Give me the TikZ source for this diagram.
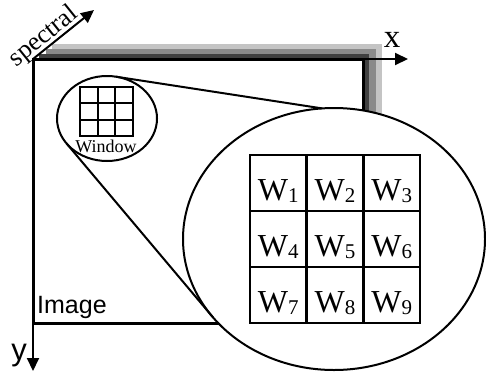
\documentclass[tikz,border=0pt]{standalone}
\usepackage{fontspec}
\setmainfont{Liberation Serif}
\newfontfamily\sansfam{Liberation Sans}
\usetikzlibrary{arrows.meta,calc}
\definecolor{layerA}{HTML}{404040}
\definecolor{layerB}{HTML}{8A8A8A}
\definecolor{layerC}{HTML}{C4C4C4}
\begin{document}
\begin{tikzpicture}[x=1pt,y=-1pt,
  axis/.style={line width=2pt,-{Triangle[length=13pt,width=12pt]}},
  frame/.style={line width=3pt},
  lens/.style={line width=2pt,fill=white},
  tie/.style={line width=2pt},
  bigcell/.style={draw,line width=2.5pt,minimum width=56.67pt,minimum height=56pt,inner sep=0pt},
  smallcell/.style={draw,line width=2pt,minimum width=17.67pt,minimum height=16.33pt,inner sep=0pt},
  wlabel/.style={anchor=base,inner sep=0pt,font=\fontsize{32}{32}\selectfont}
]
\useasboundingbox (0,0) rectangle (486,372);

% stacked spectral layers behind the image plane
\foreach \k/\c in {3/layerC,2/layerB,1/layerA}
  \fill[\c] ($(33,59)+(6.25*\k,-5*\k)$) rectangle ($(363,323)+(6.25*\k,-5*\k)$);

% image plane
\draw[frame,fill=white] (33,59) rectangle (363,323);

% magnified window
\coordinate (bigc) at (334,239);
\draw[lens] (bigc) ellipse [x radius=151pt, y radius=131pt];

% axes
\coordinate (O) at (33,59);
\coordinate (xend) at (408,59);
\coordinate (yend) at (33,371);
\coordinate (send) at (94,10);
\draw[axis] (O) -- (xend);
\draw[axis] (O) -- (yend);
\draw[axis] (O) -- (send);

% small window
\coordinate (smallc) at (107,118.5);
\draw[lens] (smallc) ellipse [x radius=50pt, y radius=42.5pt];

% lines joining the small window to its enlargement
\coordinate (ta) at ($(smallc)+(-79.8:50 and 42.5)$);
\coordinate (tb) at ($(bigc)+(-94.5:151 and 131)$);
\coordinate (ba) at ($(smallc)+(143.9:50 and 42.5)$);
\coordinate (bb) at ($(bigc)+(143.3:151 and 131)$);
\draw[tie] (ta) -- (tb);
\draw[tie] (ba) -- (bb);

% small 3x3 grid
\foreach \j in {0,1,2}
  \foreach \i in {0,1,2}
    \node[smallcell] (s\i\j) at ({80+17.67*(\i+0.5)},{87+16.33*(\j+0.5)}) {};
\node[anchor=base,inner sep=0pt,font=\fontsize{18}{18}\selectfont] (win) at (106,152) {Window};

% large 3x3 grid with labels
\foreach \j in {0,1,2}
  \foreach \i in {0,1,2} {
    \pgfmathtruncatemacro{\n}{3*\j+\i+1}
    \node[bigcell] (c\n) at ({250+56.67*(\i+0.5)},{155+56*(\j+0.5)}) {};
    \node[wlabel] (w\n) at ($(c\n)+(0,17)$) {W\raisebox{-2pt}{\fontsize{21}{21}\selectfont\n}};
  }

% labels
\node[anchor=base west,inner sep=0pt,font=\sansfam\fontsize{25}{25}\selectfont] (img) at (37,313) {Image};
\node[anchor=base,inner sep=0pt,font=\fontsize{33}{33}\selectfont] (xl) at (392,47) {x};
\node[anchor=base,inner sep=0pt,font=\sansfam\fontsize{31}{31}\selectfont] (yl) at (19,360) {y};
\node[anchor=south,rotate=38.8,inner sep=1pt,font=\fontsize{26}{26}\selectfont] (spec) at (52,47) {spectral};
\end{tikzpicture}
\end{document}
